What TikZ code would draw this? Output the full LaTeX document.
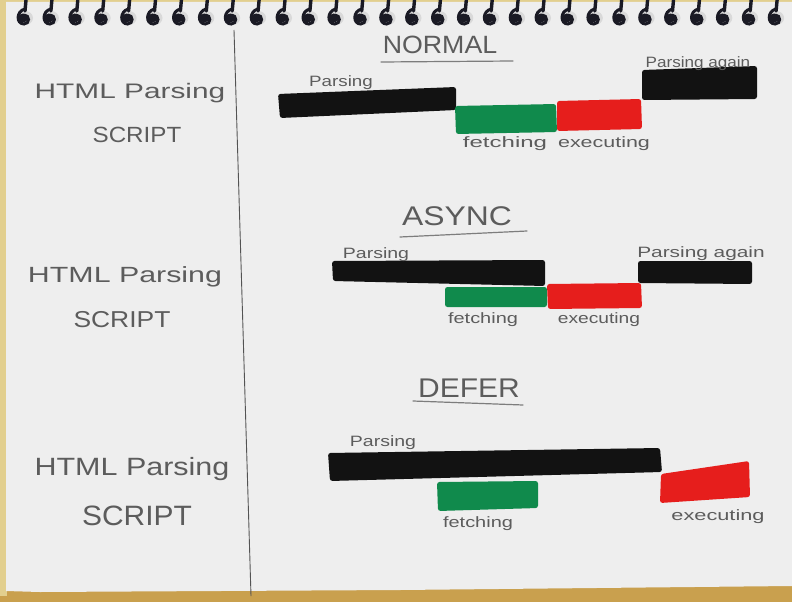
\documentclass[tikz,border=0pt]{standalone}
\usepackage{fontspec}
\setmainfont{Liberation Sans}
\usepackage{graphicx}
\definecolor{paper}{HTML}{EEEEEE}
\definecolor{wood}{HTML}{C9A04E}
\definecolor{edge}{HTML}{E2CF8E}
\definecolor{pencil}{HTML}{5C5C5C}
\definecolor{ink}{HTML}{121212}
\definecolor{mgreen}{HTML}{108A4C}
\definecolor{mred}{HTML}{E61E1C}
\definecolor{ring}{HTML}{1A1A24}
\newcommand\hw[2]{\scalebox{#1}[1]{#2}}
\tikzset{
  hand/.style={text=pencil, inner sep=0pt, anchor=base},
  side/.style={hand, font=\fontsize{21}{21}\selectfont},
  title/.style={hand, font=\fontsize{25}{25}\selectfont},
  tag/.style={hand, font=\fontsize{15}{15}\selectfont},
  rule/.style={draw=pencil!80, line width=1.2pt, line cap=round},
  bar/.style={rounded corners=2.5pt},
  parse/.style={bar, fill=ink},
  fetch/.style={bar, fill=mgreen},
  exec/.style={bar, fill=mred},
}
\begin{document}
\begin{tikzpicture}[x=1pt,y=-1pt]
\useasboundingbox (0,0) rectangle (792,602);

% desk, paper edge and sheet
\fill[wood] (0,0) rectangle (792,602);
\fill[edge] (0,0) rectangle (7,596);
\fill[edge] (7,0) rectangle (792,3);
\fill[paper] (6,2) -- (792,2) -- (792,586) -- (400,590) -- (40,592) -- (6,591) -- cycle;

% spiral binding: hole shadow, wire stem and wire loop
\foreach \i in {0,...,29} {
  \pgfmathsetmacro{\rx}{23+25.9*\i}
  \fill[gray!30] (\rx+2,18) circle[x radius=8, y radius=7];
  \draw[ring, line width=3.4pt, line cap=round] (\rx+3,0) -- (\rx+2,11);
  \draw[ring, line width=3pt] (\rx+2,9) .. controls (\rx-7,11) and (\rx-7,24) .. (\rx+1,24)
        .. controls (\rx+7,24) and (\rx+7,15) .. (\rx+1,15);
  \fill[ring] (\rx,18) circle[x radius=5, y radius=4.5];
}

% margin line
\draw[pencil!90!black, line width=0.9pt] (234,30) -- (251,596);

% left column labels
\node[side] (h1) at (130,98) {\hw{1.42}{HTML Parsing}};
\node[side, font=\fontsize{22}{22}\selectfont] (s1) at (137,142) {\hw{1.1}{SCRIPT}};
\node[side, font=\fontsize{22}{22}\selectfont] (h2) at (125,282) {\hw{1.38}{HTML Parsing}};
\node[side, font=\fontsize{23}{23}\selectfont] (s2) at (122,327) {\hw{1.15}{SCRIPT}};
\node[side, font=\fontsize{25}{25}\selectfont] (h3) at (132,475) {\hw{1.22}{HTML Parsing}};
\node[side, font=\fontsize{28}{28}\selectfont] (s3) at (137,525) {\hw{1.07}{SCRIPT}};

% NORMAL
\node[title] (tn) at (440,53) {\hw{1.07}{NORMAL}};
\draw[rule] (381,62) -- (513,61);
\fill[parse] (278,94) -- (456,87) -- (456,110) -- (280,118) -- cycle;
\fill[fetch] (455,106) -- (556,104) -- (557,132) -- (456,134) -- cycle;
\fill[exec] (557,101) -- (641,99) -- (642,129) -- (557,131) -- cycle;
\fill[parse] (642,70) -- (757,66) -- (757,99) -- (642,100) -- cycle;
\node[tag] (np) at (341,86) {\hw{1.25}{Parsing}};
\node[tag] (na) at (698,67) {\hw{1.14}{Parsing again}};
\node[tag] (nf) at (505,147) {\hw{1.6}{fetching}};
\node[tag] (ne) at (604,147) {\hw{1.43}{executing}};

% ASYNC
\node[title, font=\fontsize{27}{27}\selectfont] (ta) at (457,225) {\hw{1.18}{ASYNC}};
\draw[rule] (400,237) -- (527,231);
\fill[parse] (332,261) -- (545,260) -- (545,286) -- (333,281) -- cycle;
\fill[fetch] (445,287) -- (547,287) -- (547,307) -- (445,307) -- cycle;
\fill[exec] (547,284) -- (641,283) -- (642,308) -- (548,309) -- cycle;
\fill[parse] (638,261) -- (752,261) -- (752,284) -- (638,283) -- cycle;
\node[tag] (ap) at (376,258) {\hw{1.3}{Parsing}};
\node[tag] (aa) at (701,257) {\hw{1.39}{Parsing again}};
\node[tag] (af) at (483,323) {\hw{1.33}{fetching}};
\node[tag] (ae) at (599,323) {\hw{1.28}{executing}};

% DEFER
\node[title, font=\fontsize{27}{27}\selectfont] (td) at (469,397) {\hw{1.11}{DEFER}};
\draw[rule] (413,401) -- (523,405);
\fill[parse] (328,453) -- (660,448) -- (662,472) -- (330,481) -- cycle;
\fill[fetch] (437,482) -- (538,481) -- (538,508) -- (438,511) -- cycle;
\fill[exec] (661,474) -- (749,461) -- (750,497) -- (660,503) -- cycle;
\node[tag] (dp) at (383,446) {\hw{1.3}{Parsing}};
\node[tag] (df) at (478,527) {\hw{1.33}{fetching}};
\node[tag] (de) at (718,520) {\hw{1.45}{executing}};
\end{tikzpicture}
\end{document}
